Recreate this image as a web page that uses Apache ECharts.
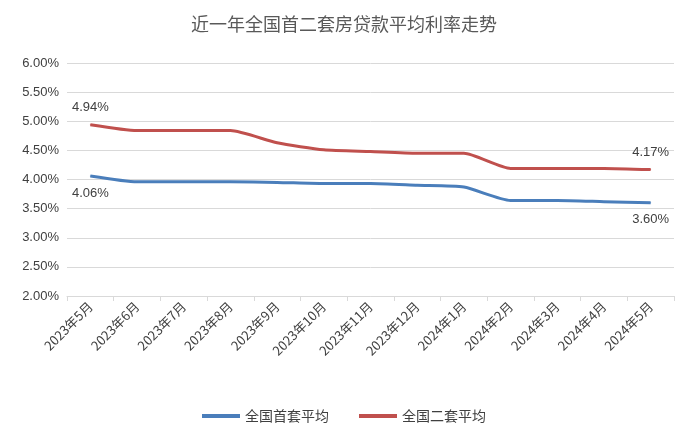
<!DOCTYPE html>
<html><head><meta charset="utf-8">
<script src="https://cdn.jsdelivr.net/npm/echarts@6/dist/echarts.min.js"></script>
<style>body{margin:0;background:#fff}#c{width:688px;height:436px}</style>
</head><body><div id="c"></div>
<script>
const categories=['2023年5月','2023年6月','2023年7月','2023年8月','2023年9月','2023年10月','2023年11月','2023年12月','2024年1月','2024年2月','2024年3月','2024年4月','2024年5月'];
const firstHome=[4.06,3.96,3.96,3.96,3.95,3.93,3.93,3.90,3.87,3.64,3.64,3.62,3.60];
const secondHome=[4.94,4.84,4.84,4.84,4.63,4.51,4.48,4.45,4.45,4.19,4.19,4.19,4.17];
const names=['全国首套平均','全国二套平均'];
function lbl(pos){return {show:true,position:pos,distance:10,color:'#404040',fontSize:13,formatter:p=>(p.dataIndex===0||p.dataIndex===categories.length-1)?Number(p.value).toFixed(2)+'%':''};}
const chart=echarts.init(document.getElementById('c'));
chart.setOption({
 animation:false,
 title:{text:'近一年全国首二套房贷款平均利率走势',left:'center',top:10,textStyle:{fontFamily:'Noto Sans CJK SC',fontWeight:'normal',fontSize:18,color:'#595959'}},
 grid:{left:67,right:14,top:63,bottom:140},
 legend:{bottom:8,itemWidth:38,itemHeight:4,itemGap:30,icon:'rect',textStyle:{fontSize:14,color:'#404040',fontFamily:'Noto Sans CJK SC'},data:names},
 xAxis:{type:'category',data:categories,boundaryGap:true,axisTick:{show:true,lineStyle:{color:'#d9d9d9'}},axisLine:{lineStyle:{color:'#d9d9d9'}},axisLabel:{rotate:45,color:'#404040',fontSize:13,interval:0,fontFamily:'Noto Sans CJK SC'}},
 yAxis:{type:'value',min:2,max:6,interval:0.5,axisLabel:{formatter:v=>v.toFixed(2)+'%',color:'#404040',fontSize:13},splitLine:{lineStyle:{color:'#d9d9d9'}},axisLine:{show:false},axisTick:{show:false}},
 series:[
  {name:names[0],type:'line',data:firstHome,smooth:0.2,symbol:'circle',symbolSize:1,showSymbol:true,lineStyle:{width:3,color:'#4a7ebb'},itemStyle:{color:'#4a7ebb'},label:lbl('bottom'),labelLayout:{hideOverlap:false}},
  {name:names[1],type:'line',data:secondHome,smooth:0.2,symbol:'circle',symbolSize:1,showSymbol:true,lineStyle:{width:3,color:'#c0504d'},itemStyle:{color:'#c0504d'},label:lbl('top'),labelLayout:{hideOverlap:false}}
 ]
});
</script></body></html>
